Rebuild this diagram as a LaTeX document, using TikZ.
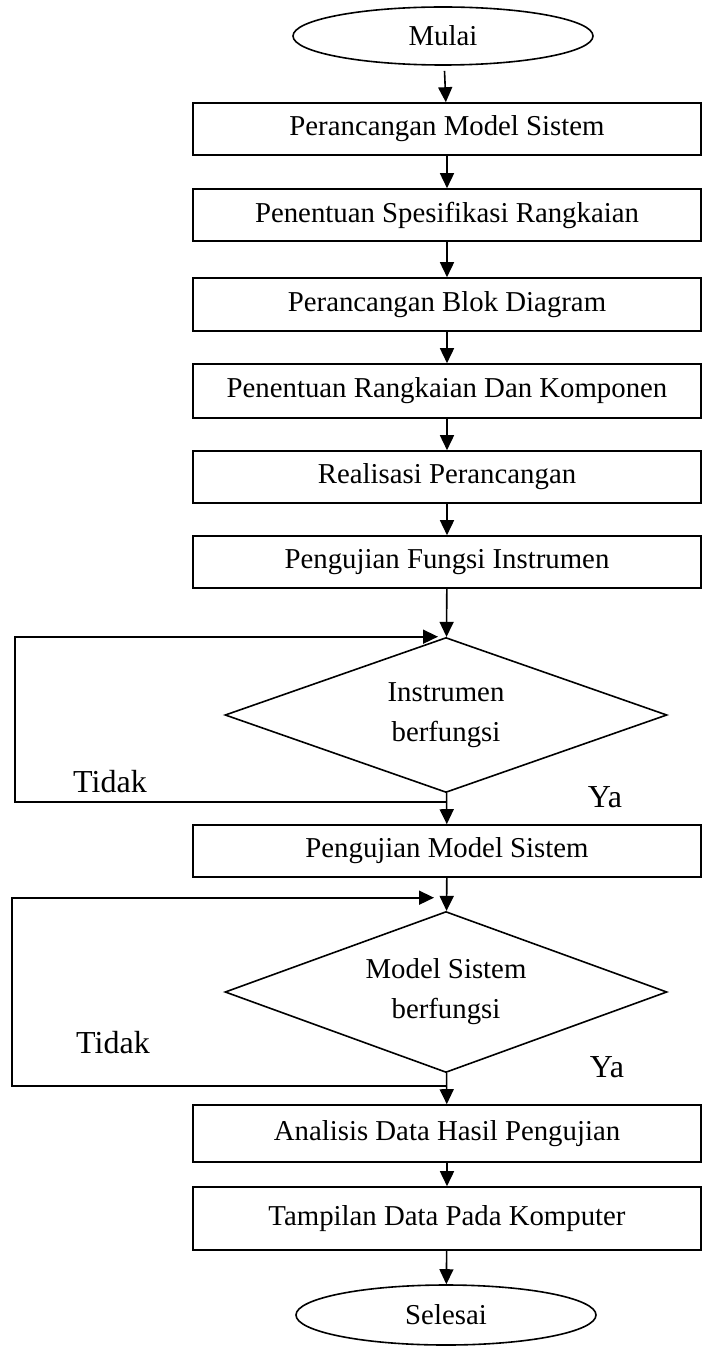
\documentclass[tikz,border=0pt]{standalone}
\usepackage{fontspec}
\setmainfont{Liberation Serif}
\usetikzlibrary{shapes.geometric,arrows.meta}

\begin{document}
\begin{tikzpicture}[x=0.5pt, y=-0.5pt,
  every node/.style={font=\fontsize{14.4}{20}\selectfont},
  terminal/.style={draw, ellipse, line width=0.8pt, minimum width=150pt, minimum height=29pt, inner sep=0pt},
  process/.style={draw, rectangle, line width=0.8pt, minimum width=254pt, minimum height=26pt, inner sep=0pt},
  decision/.style={draw, diamond, aspect=2.85, line width=0.8pt, minimum width=221pt, minimum height=77.5pt, inner sep=0pt, align=center},
  arr/.style={line width=0.8pt, -{Triangle[length=7.5pt,width=7pt]}},
  lbl/.style={font=\fontsize{16}{19}\selectfont}]

  \useasboundingbox (0,0) rectangle (703,1348);

  % ---- Mulai ----
  \node[terminal] (mulai) at (443,36) {Mulai};

  % ---- Perancangan ----
  \node[process] (b1) at (447,129) {Perancangan Model Sistem};
  \node[process] (b2) at (447,215) {Penentuan Spesifikasi Rangkaian};
  \node[process, minimum height=26.5pt] (b3) at (447,304.5) {Perancangan Blok Diagram};
  \node[process, minimum height=27pt] (b4) at (447,391) {Penentuan Rangkaian Dan Komponen};
  \node[process] (b5) at (447,477) {Realisasi Perancangan};
  \node[process] (b6) at (447,562) {Pengujian Fungsi Instrumen};

  % ---- Cek instrumen ----
  \node[decision] (d1) at (446,715) {Instrumen\\berfungsi};
  \node[lbl] (tidak1) at (110,782) {Tidak};
  \node[lbl] (ya1) at (605,797) {Ya};

  \node[process] (b7) at (447,851) {Pengujian Model Sistem};

  % ---- Cek model sistem ----
  \node[decision, minimum height=80.5pt] (d2) at (446,992) {Model Sistem\\berfungsi};
  \node[lbl] (tidak2) at (113,1043) {Tidak};
  \node[lbl] (ya2) at (607,1067) {Ya};

  % ---- Hasil ----
  \node[process, minimum height=28.5pt] (b8) at (447,1133.5) {Analisis Data Hasil Pengujian};
  \node[process, minimum height=31.5pt] (b9) at (447,1218.5) {Tampilan Data Pada Komputer};

  % ---- Selesai ----
  \node[terminal, minimum height=30pt] (selesai) at (446,1315) {Selesai};

  % alur utama
  \draw[arr, shorten <=2.5pt] (mulai) -- (b1);
  \draw[arr] (b1) -- (b2);
  \draw[arr] (b2) -- (b3);
  \draw[arr] (b3) -- (b4);
  \draw[arr] (b4) -- (b5);
  \draw[arr] (b5) -- (b6);
  \draw[arr] (b6) -- (d1);
  \draw[arr] (d1) -- (b7);
  \draw[arr] (b7) -- (d2);
  \draw[arr] (d2) -- (b8);
  \draw[arr] (b8) -- (b9);
  \draw[arr] (b9) -- (selesai);

  % umpan balik Tidak
  \coordinate (t1) at (15,802);
  \coordinate (t2) at (12,1086);
  \draw[arr] (d1.south |- t1) -- (t1) |- ([xshift=-4pt]d1.north);
  \draw[arr] (d2.south |- t2) -- (t2) |- ([xshift=-6pt,yshift=6.5pt]d2.north);

\end{tikzpicture}
\end{document}
